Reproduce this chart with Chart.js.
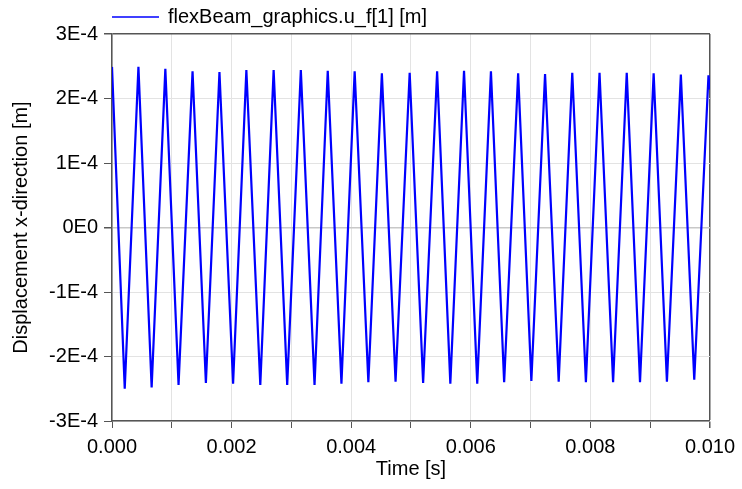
<!DOCTYPE html>
<html>
<head>
<meta charset="utf-8">
<script src="https://cdn.jsdelivr.net/npm/chart.js@4/dist/chart.umd.min.js"></script>
<style>
  html, body { margin: 0; padding: 0; background: #fff; }
  #wrap { width: 742px; height: 489px; }
</style>
</head>
<body>
<div id="wrap"><canvas id="plot"></canvas></div>
<script>
// vertices of the oscillation (time in ms, displacement in 1E-4 m)
const timeMs = [
  0.000, 0.213, 0.442, 0.663, 0.892, 1.113, 1.347, 1.570, 1.797, 2.025,
  2.247, 2.480, 2.703, 2.930, 3.158, 3.387, 3.608, 3.837, 4.058, 4.287,
  4.513, 4.742, 4.978, 5.203, 5.437, 5.658, 5.887, 6.108, 6.337, 6.558,
  6.792, 7.013, 7.242, 7.470, 7.697, 7.925, 8.153, 8.380, 8.608, 8.830,
  9.058, 9.280, 9.513, 9.737, 9.975, 10.000
];
const dispE4 = [
  2.49, -2.50, 2.49, -2.48, 2.46, -2.44, 2.42, -2.41, 2.41, -2.42,
  2.44, -2.44, 2.44, -2.44, 2.44, -2.44, 2.43, -2.42, 2.42, -2.40,
  2.39, -2.39, 2.40, -2.41, 2.42, -2.42, 2.43, -2.42, 2.42, -2.40,
  2.39, -2.38, 2.38, -2.39, 2.40, -2.40, 2.40, -2.40, 2.40, -2.40,
  2.39, -2.39, 2.37, -2.36, 2.36, 2.14
];
const seriesName = 'flexBeam_graphics.u_f[1] [m]';
const xTickLabels = ['0.000', '0.002', '0.004', '0.006', '0.008', '0.010'];
const yTickLabels = ['-3E-4', '-2E-4', '-1E-4', '0E0', '1E-4', '2E-4', '3E-4'];

const points = timeMs.map((t, i) => ({ x: t / 1000, y: dispE4[i] * 1e-4 }));

const FONT = 'Liberation Sans, Arial, sans-serif';
const BLUE = '#0000ff';
const BORDER = '#555555';

// legend drawn on top, line sample + name
const legendPlugin = {
  id: 'topLegend',
  afterDraw(chart) {
    const ctx = chart.ctx;
    ctx.save();
    ctx.strokeStyle = BLUE;
    ctx.lineWidth = 1.5;
    ctx.beginPath();
    ctx.moveTo(112, 17);
    ctx.lineTo(159, 17);
    ctx.stroke();
    ctx.fillStyle = '#000';
    ctx.font = '20px ' + FONT;
    ctx.textBaseline = 'middle';
    ctx.fillText(seriesName, 168, 17);
    ctx.restore();
  }
};

new Chart(document.getElementById('plot'), {
  type: 'line',
  data: {
    datasets: [{
      label: seriesName,
      data: points,
      borderColor: BLUE,
      borderWidth: 2.2,
      pointRadius: 0,
      tension: 0,
      fill: false
    }]
  },
  options: {
    responsive: true,
    maintainAspectRatio: false,
    animation: false,
    layout: { padding: { top: 34, right: 30, left: 0, bottom: 0 } },
    plugins: { legend: { display: false }, tooltip: { enabled: false } },
    scales: {
      x: {
        type: 'linear',
        min: 0,
        max: 0.010,
        afterBuildTicks(scale) {
          const t = [];
          for (let i = 0; i <= 10; i++) t.push({ value: i / 1000 });
          scale.ticks = t;
        },
        afterFit(scale) { scale.height = 68; },
        ticks: {
          autoSkip: false,
          maxRotation: 0,
          color: '#000',
          padding: 7,
          font: { family: FONT, size: 20 },
          callback: (v, i) => (i % 2 === 0 ? xTickLabels[i / 2] : '')
        },
        grid: {
          color: c => (c.index === 10 ? BORDER : '#e3e3e3'),
          tickColor: BORDER,
          tickLength: 7,
          lineWidth: c => (c.index === 10 ? 1.5 : 1)
        },
        border: { color: BORDER, width: 1.5 },
        title: {
          display: true,
          text: 'Time [s]',
          color: '#000',
          font: { family: FONT, size: 20 },
          padding: { top: 0, bottom: 8 }
        }
      },
      y: {
        type: 'linear',
        min: -3e-4,
        max: 3e-4,
        afterBuildTicks(scale) {
          const t = [];
          for (let i = -3; i <= 3; i++) t.push({ value: i * 1e-4 });
          scale.ticks = t;
        },
        afterFit(scale) { scale.width = 112; },
        ticks: {
          autoSkip: false,
          color: '#000',
          padding: 6,
          font: { family: FONT, size: 20 },
          callback: (v, i) => yTickLabels[i]
        },
        grid: {
          color: c => {
            if (c.index === 6) return BORDER;
            if (c.index === 3) return '#c8c8c8';
            return '#e3e3e3';
          },
          lineWidth: c => (c.index === 6 ? 1.5 : (c.index === 3 ? 1.5 : 1)),
          tickColor: BORDER,
          tickLength: 8
        },
        border: { color: BORDER, width: 1.5 },
        title: {
          display: true,
          text: 'Displacement x-direction [m]',
          color: '#000',
          font: { family: FONT, size: 20 },
          padding: { top: 9, bottom: 0 }
        }
      }
    }
  },
  plugins: [legendPlugin]
});
</script>
</body>
</html>
